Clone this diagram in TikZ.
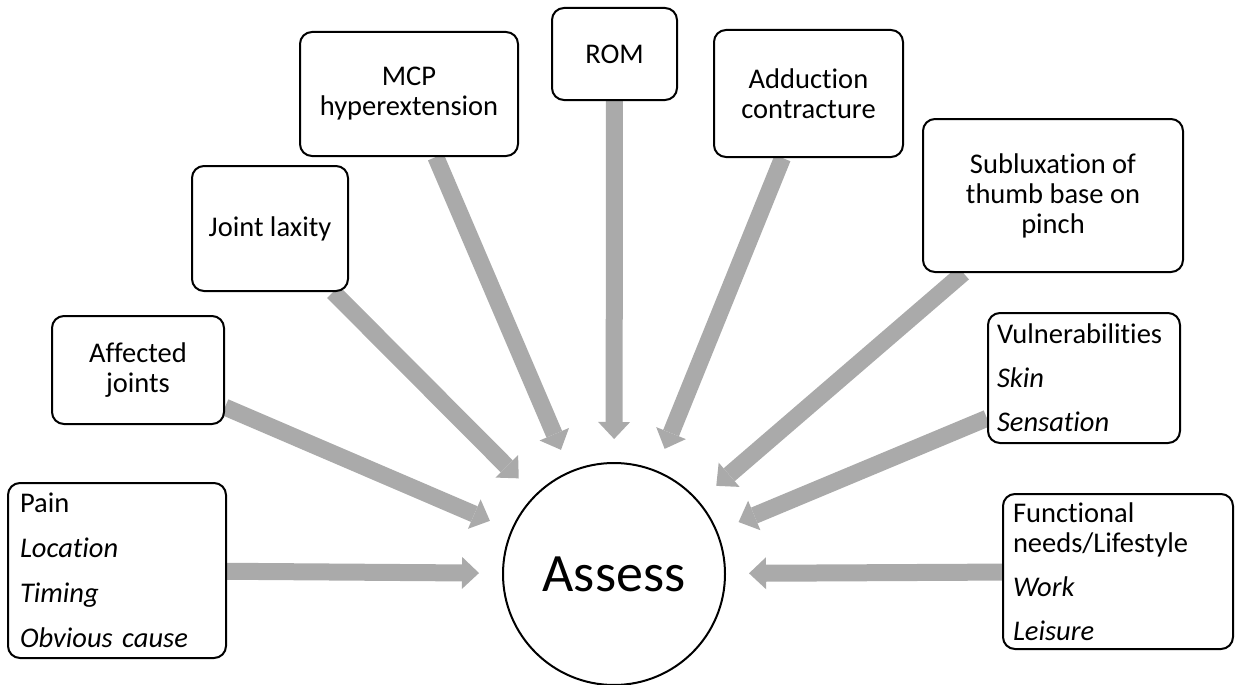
\documentclass[tikz,border=0pt]{standalone}
\usepackage{fontspec}
\setmainfont{Carlito}[Ligatures={NoCommon}]
\usetikzlibrary{arrows.meta, backgrounds}

\definecolor{arrowgray}{RGB}{170,170,170}

\begin{document}
\begin{tikzpicture}[x=1pt, y=-1pt,
  every node/.style={font=\fontsize{28.5}{30}\selectfont},
  box/.style={draw, line width=2pt, rounded corners=12pt, fill=white, align=center, inner sep=0pt},
  listbox/.style={draw, line width=2pt, rounded corners=12pt, fill=white, align=left, inner ysep=0pt},
  fat/.style={color=arrowgray, line width=17pt, -{Triangle[length=17pt,width=32pt,line width=0pt]}, shorten >=23pt},
]
  \useasboundingbox (0,0) rectangle (1240,685);

  \node[draw, circle, line width=2pt, minimum size=222pt, inner sep=0pt, fill=white,
        font=\fontsize{54}{60}\selectfont] (assess) at (614,574) {Assess};

  \node[listbox, text width=194pt, inner xsep=12pt, minimum height=175pt] (pain) at (117,570.5)
    {Pain\\[15pt]\textit{Location}\\[15pt]\textit{Timing}\\[15pt]\textit{Obvious cause}};
  \node[box, minimum width=172pt, minimum height=108pt] (affected) at (138,370) {Affected\\joints};
  \node[box, minimum width=156pt, minimum height=125pt] (laxity) at (270,228.5) {Joint laxity};
  \node[box, minimum width=218pt, minimum height=124pt] (mcp) at (409,94) {MCP\\hyperextension};
  \node[box, minimum width=125pt, minimum height=92pt] (rom) at (614.5,54) {ROM};
  \node[box, minimum width=189pt, minimum height=127pt] (adduct) at (808.5,93.5) {Adduction\\contracture};
  \node[box, minimum width=260pt, minimum height=153pt] (sublux) at (1053,195.5) {Subluxation of\\thumb base on\\pinch};
  \node[listbox, text width=174pt, inner xsep=9pt, minimum height=130pt] (vuln) at (1084,378)
    {Vulnerabilities\\[14pt]\textit{Skin}\\[14pt]\textit{Sensation}};
  \node[listbox, text width=210pt, inner xsep=10pt, minimum height=155pt] (func) at (1118,571.5)
    {Functional\\needs/Lifestyle\\[14pt]\textit{Work}\\[14pt]\textit{Leisure}};

  \begin{scope}[on background layer]
   \path[fat]
    (pain) edge (assess)
    (affected) edge (assess)
    (laxity) edge (assess)
    (mcp) edge (assess)
    (rom) edge (assess)
    (adduct) edge (assess)
    (sublux) edge (assess)
    (vuln) edge (assess)
    (func) edge (assess);
  \end{scope}

\end{tikzpicture}
\end{document}
